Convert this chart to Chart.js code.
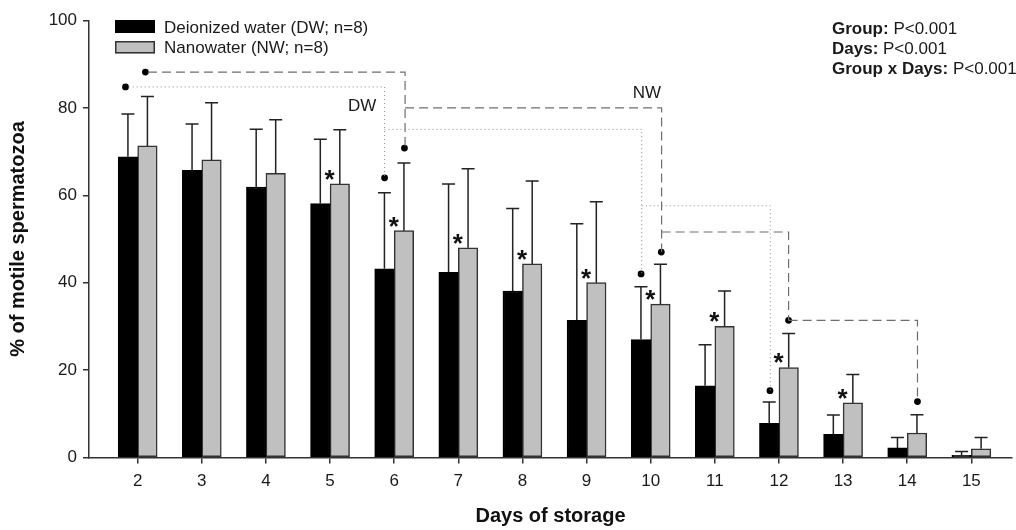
<!DOCTYPE html>
<html>
<head>
<meta charset="utf-8">
<script src="https://cdn.jsdelivr.net/npm/chart.js@4.4.1/dist/chart.umd.min.js"></script>
<style>
  html, body { margin: 0; padding: 0; background: #fff; }
</style>
</head>
<body>
<canvas id="chart" width="1016" height="530"></canvas>
<script>
// Days of storage and group means / SD (% motile spermatozoa)
const days   = [2, 3, 4, 5, 6, 7, 8, 9, 10, 11, 12, 13, 14, 15];
const dwMean = [68.8, 65.7, 61.9, 58.1, 43.2, 42.4, 38.1, 31.4, 27.0, 16.4, 7.8, 5.3, 2.2, 0.5];
const dwSd   = [9.8, 10.6, 13.2, 14.7, 17.4, 20.2, 18.9, 22.1, 12.1, 9.4, 4.9, 4.4, 2.4, 0.9];
const nwMean = [71.3, 68.1, 65.0, 62.6, 51.9, 48.0, 44.3, 40.0, 35.1, 30.0, 20.6, 12.5, 5.6, 2.0];
const nwSd   = [11.3, 13.1, 12.3, 12.4, 15.5, 18.1, 19.0, 18.5, 9.1, 8.1, 7.8, 6.5, 4.2, 2.6];
const yTicks = [0, 20, 40, 60, 80, 100];

// DW vs NW difference on these days
const starDays = [5, 6, 7, 8, 9, 10, 11, 12, 13];

// within-group comparison markers (x in day units, y in %)
const dwDotX = [1.81, 5.85, 9.85, 11.86];
const dwDotY = [84.8, 64.0, 42.0, 15.3];
const nwDotX = [2.12, 6.16, 10.165, 12.15, 14.16];
const nwDotY = [88.2, 70.8, 47.0, 31.4, 12.8];

const dwLinks = [
  [[1.86, 84.8], [5.85, 84.8], [5.85, 64.0]],
  [[5.85, 75.1], [9.86, 75.1], [9.86, 42.0]],
  [[9.86, 57.6], [11.865, 57.6], [11.865, 15.3]]
];
const nwLinks = [
  [[2.16, 88.2], [6.17, 88.2], [6.17, 70.8]],
  [[6.17, 80.0], [10.17, 80.0], [10.17, 47.0]],
  [[10.17, 51.6], [12.15, 51.6], [12.15, 31.4]],
  [[12.15, 31.4], [14.16, 31.4], [14.16, 12.8]]
];

const FONT = "'Liberation Sans', Arial, sans-serif";
Chart.defaults.font.family = FONT;
Chart.defaults.color = '#1a1a1a';

const linkSets = [
  ...dwLinks.map(pts => ({ pts, dash: [1, 3], color: '#8c8c8c', width: 1 })),
  ...nwLinks.map(pts => ({ pts, dash: [9, 5], color: '#6e6e6e', width: 1.2 }))
].map(l => ({
  type: 'line',
  data: l.pts.map(p => ({ x: p[0], y: p[1] })),
  borderColor: l.color,
  borderWidth: l.width,
  borderDash: l.dash,
  pointRadius: 0,
  fill: false,
  tension: 0
}));

// error bars, stars, legend and text notes
const extras = {
  id: 'extras',
  afterDatasetsDraw(chart) {
    const { ctx, scales: { x, y } } = chart;
    ctx.save();
    ctx.strokeStyle = '#222';
    ctx.lineWidth = 1.5;
    [[0, dwMean, dwSd], [1, nwMean, nwSd]].forEach(([idx, means, sds]) => {
      chart.getDatasetMeta(idx).data.forEach((bar, i) => {
        const top = y.getPixelForValue(means[i] + sds[i]);
        ctx.beginPath();
        ctx.moveTo(bar.x, bar.y);
        ctx.lineTo(bar.x, top);
        ctx.moveTo(bar.x - 6.5, top);
        ctx.lineTo(bar.x + 6.5, top);
        ctx.stroke();
      });
    });

    // asterisks
    ctx.fillStyle = '#111';
    ctx.font = 'bold 26px ' + FONT;
    ctx.textBaseline = 'alphabetic';
    ctx.textAlign = 'left';
    const m = ctx.measureText('*');
    starDays.forEach(d => {
      const i = days.indexOf(d);
      const px = x.getPixelForValue(d);
      const bottom = y.getPixelForValue(nwMean[i]) - 4;
      const w = m.actualBoundingBoxRight + m.actualBoundingBoxLeft;
      ctx.fillText('*', px - w / 2 + m.actualBoundingBoxLeft, bottom - m.actualBoundingBoxDescent);
    });

    // group labels
    ctx.font = '17px ' + FONT;
    ctx.textAlign = 'right';
    ctx.fillStyle = '#1a1a1a';
    ctx.fillText('DW', x.getPixelForValue(5.72), y.getPixelForValue(79.3));
    ctx.fillText('NW', x.getPixelForValue(10.16), y.getPixelForValue(82.2));

    // legend
    ctx.textAlign = 'left';
    ctx.lineWidth = 1.5;
    ctx.fillStyle = '#000';
    ctx.fillRect(115, 20, 40, 13);
    ctx.strokeStyle = '#000';
    ctx.strokeRect(115.75, 20.75, 38.5, 11.5);
    ctx.fillStyle = '#c0c0c0';
    ctx.fillRect(115, 41, 40, 12.5);
    ctx.strokeStyle = '#333';
    ctx.strokeRect(115.75, 41.75, 38.5, 11);
    ctx.fillStyle = '#1a1a1a';
    ctx.fillText('Deionized water (DW; n=8)', 164, 32.7);
    ctx.fillText('Nanowater (NW; n=8)', 164, 53.3);

    // statistics
    const stats = [['Group: ', 'P<0.001'], ['Days: ', 'P<0.001'], ['Group x Days: ', 'P<0.001']];
    stats.forEach((s, i) => {
      const by = 33.5 + i * 20;
      ctx.font = 'bold 17px ' + FONT;
      ctx.fillText(s[0], 832, by);
      const bw = ctx.measureText(s[0]).width;
      ctx.font = '17px ' + FONT;
      ctx.fillText(s[1], 832 + bw, by);
    });
    ctx.restore();
  }
};

new Chart(document.getElementById('chart'), {
  type: 'bar',
  data: {
    datasets: [
      {
        label: 'Deionized water (DW; n=8)',
        data: days.map((d, i) => ({ x: d, y: dwMean[i] })),
        backgroundColor: '#000',
        borderColor: '#000',
        borderWidth: 1.5,
        borderSkipped: false,
        barThickness: 19.5
      },
      {
        label: 'Nanowater (NW; n=8)',
        data: days.map((d, i) => ({ x: d, y: nwMean[i] })),
        backgroundColor: '#c0c0c0',
        borderColor: '#333',
        borderWidth: 1.5,
        borderSkipped: false,
        barThickness: 19.5
      },
      ...linkSets,
      {
        type: 'scatter',
        data: [
          ...dwDotX.map((v, i) => ({ x: v, y: dwDotY[i] })),
          ...nwDotX.map((v, i) => ({ x: v, y: nwDotY[i] }))
        ],
        backgroundColor: '#000',
        borderColor: '#000',
        pointRadius: 3.4,
        borderWidth: 0
      }
    ]
  },
  options: {
    responsive: false,
    animation: false,
    layout: { padding: { top: 20.5, right: 3, left: 0, bottom: 0 } },
    plugins: { legend: { display: false }, tooltip: { enabled: false } },
    scales: {
      x: {
        type: 'linear',
        offset: false,
        min: 1.241,
        max: 15.634,
        afterBuildTicks: s => { s.ticks = days.map(v => ({ value: v })); },
        afterFit: s => { s.height = 72.5; },
        grid: { display: true, offset: false, drawOnChartArea: false, drawTicks: true, tickLength: 6, color: '#333', lineWidth: 1.5 },
        border: { display: true, color: '#333', width: 1.5 },
        ticks: { font: { size: 17 }, color: '#1a1a1a', padding: 7.5, maxRotation: 0, autoSkip: false },
        title: { display: true, text: 'Days of storage', font: { size: 20, weight: 'bold' }, color: '#111', padding: { top: 0, bottom: 2 } }
      },
      y: {
        min: 0,
        max: 100,
        afterBuildTicks: s => { s.ticks = yTicks.map(v => ({ value: v })); },
        afterFit: s => { s.width = 89; },
        grid: { display: true, drawOnChartArea: false, drawTicks: true, tickLength: 6, color: '#333', lineWidth: 1.5 },
        border: { display: true, color: '#333', width: 1.5 },
        ticks: { font: { size: 17 }, color: '#1a1a1a', padding: 6 },
        title: { display: true, text: '% of motile spermatozoa', font: { size: 20, weight: 'bold' }, color: '#111', padding: { top: 6, bottom: 0 } }
      }
    }
  },
  plugins: [extras]
});
</script>
</body>
</html>
